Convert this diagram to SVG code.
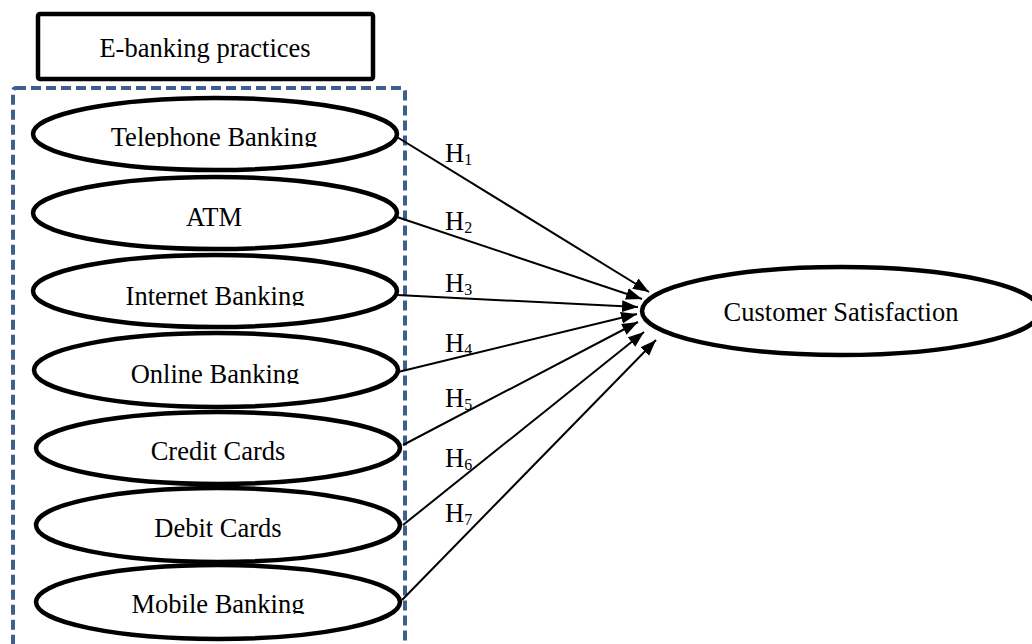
<svg xmlns="http://www.w3.org/2000/svg" width="1032" height="644" viewBox="0 0 1032 644">
  <style>
    .lbl { font-family: "Liberation Serif", "Times New Roman", serif; font-size: 26.5px; fill: #000; text-anchor: middle; }
    .hyp { font-family: "Liberation Serif", "Times New Roman", serif; font-size: 26.5px; fill: #000; }
    .sub { font-size: 16px; }
    .oval { fill: #fff; stroke: #000; stroke-width: 4.5; }
    .edge { stroke: #000; stroke-width: 2; fill: none; marker-end: url(#arrow); }
  </style>
  <defs>
    <marker id="arrow" markerUnits="userSpaceOnUse" markerWidth="18" markerHeight="14" refX="16" refY="6" orient="auto">
      <path d="M0,0 L16,6 L0,12 Z" fill="#000"/>
    </marker>
    <!-- labels whose descenders are trimmed at the baseline -->
    <clipPath id="clip-tel"><rect x="0" y="100" width="420" height="47"/></clipPath>
    <clipPath id="clip-int"><rect x="0" y="260" width="420" height="46"/></clipPath>
    <clipPath id="clip-onl"><rect x="0" y="340" width="420" height="44"/></clipPath>
    <clipPath id="clip-mob"><rect x="0" y="570" width="420" height="44"/></clipPath>
  </defs>

  <rect width="1032" height="644" fill="#fff"/>

  <!-- group frame -->
  <rect id="frame" x="13" y="88" width="392" height="580" rx="3" fill="none" stroke="#3e6090" stroke-width="4" stroke-dasharray="10 5"/>

  <g id="title">
    <rect x="38" y="14" width="335" height="65" rx="2" fill="#fff" stroke="#000" stroke-width="4.5"/>
    <text class="lbl" x="205" y="57">E-banking practices</text>
  </g>

  <g id="telephone">
    <ellipse class="oval" cx="215" cy="134" rx="182" ry="36"/>
    <text class="lbl" x="214" y="146" clip-path="url(#clip-tel)">Telephone Banking</text>
  </g>
  <g id="atm">
    <ellipse class="oval" cx="215" cy="213" rx="182" ry="36"/>
    <text class="lbl" x="214" y="226">ATM</text>
  </g>
  <g id="internet">
    <ellipse class="oval" cx="215" cy="291" rx="182" ry="36"/>
    <text class="lbl" x="215" y="305" clip-path="url(#clip-int)">Internet Banking</text>
  </g>
  <g id="online">
    <ellipse class="oval" cx="216" cy="370" rx="182" ry="37"/>
    <text class="lbl" x="215" y="383" clip-path="url(#clip-onl)">Online Banking</text>
  </g>
  <g id="credit">
    <ellipse class="oval" cx="218" cy="448" rx="182" ry="36"/>
    <text class="lbl" x="218" y="460">Credit Cards</text>
  </g>
  <g id="debit">
    <ellipse class="oval" cx="218" cy="525" rx="182" ry="37"/>
    <text class="lbl" x="218" y="537">Debit Cards</text>
  </g>
  <g id="mobile">
    <ellipse class="oval" cx="218" cy="602" rx="182" ry="37"/>
    <text class="lbl" x="218" y="613" clip-path="url(#clip-mob)">Mobile Banking</text>
  </g>

  <g id="satisfaction">
    <ellipse class="oval" cx="841" cy="311" rx="199" ry="44"/>
    <text class="lbl" x="841" y="321">Customer Satisfaction</text>
  </g>

  <g id="connectors">
    <line class="edge" x1="397" y1="137" x2="649" y2="292"/>
    <line class="edge" x1="397" y1="217" x2="642" y2="299"/>
    <line class="edge" x1="397" y1="295" x2="638" y2="307"/>
    <line class="edge" x1="398" y1="372" x2="637" y2="314"/>
    <line class="edge" x1="403" y1="445" x2="638" y2="322"/>
    <line class="edge" x1="403" y1="525" x2="644" y2="332"/>
    <line class="edge" x1="402" y1="600" x2="656" y2="340"/>
  </g>

  <g id="hypotheses">
    <text class="hyp" x="445" y="162">H<tspan class="sub" dy="3">1</tspan></text>
    <text class="hyp" x="445" y="230">H<tspan class="sub" dy="3">2</tspan></text>
    <text class="hyp" x="445" y="292">H<tspan class="sub" dy="3">3</tspan></text>
    <text class="hyp" x="445" y="352">H<tspan class="sub" dy="3">4</tspan></text>
    <text class="hyp" x="445" y="407">H<tspan class="sub" dy="3">5</tspan></text>
    <text class="hyp" x="445" y="467">H<tspan class="sub" dy="3">6</tspan></text>
    <text class="hyp" x="445" y="522">H<tspan class="sub" dy="3">7</tspan></text>
  </g>
</svg>
